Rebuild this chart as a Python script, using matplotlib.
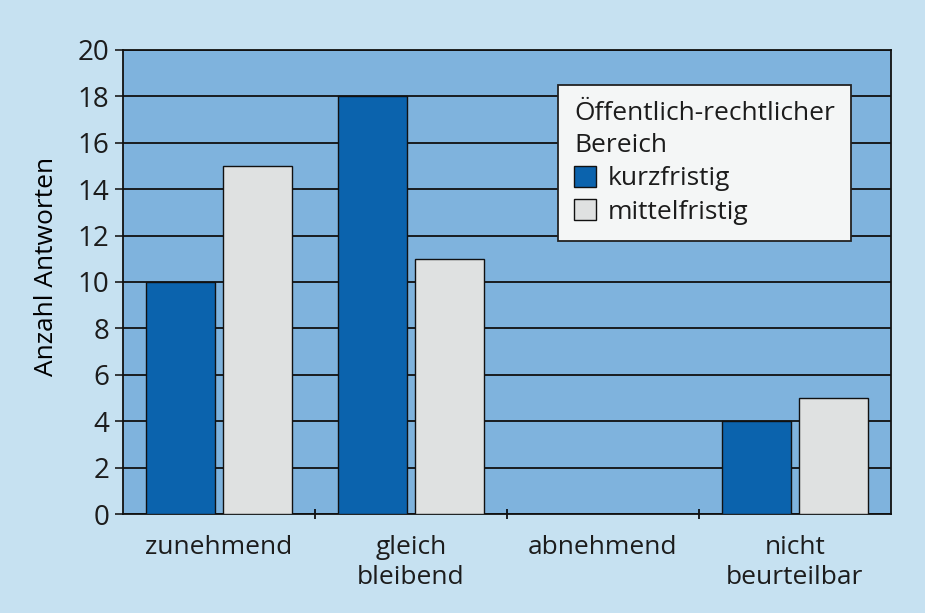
import matplotlib
matplotlib.use("Agg")
import matplotlib.pyplot as plt
import numpy as np

# data
categories = ["zunehmend", "gleich\nbleibend", "abnehmend", "nicht\nbeurteilbar"]
kurzfristig = [10, 18, 0, 4]
mittelfristig = [15, 11, 0, 5]
series_names = ["kurzfristig", "mittelfristig"]
legend_title = "Öffentlich-rechtlicher\nBereich"
y_ticks = list(range(0, 21, 2))

plt.rcParams["font.family"] = ["Open Sans", "DejaVu Sans"]
plt.rcParams["text.color"] = "#1c1c1c"
FS = 19

fig = plt.figure(figsize=(9.25, 6.13), dpi=100, facecolor="#c6e1f1")
ax = fig.add_axes([0.133, 0.1615, 0.830, 0.757])
ax.set_facecolor("#7fb3dd")
ax.set_axisbelow(True)

x = np.arange(len(categories))
w = 0.36
ax.bar(x - 0.2, kurzfristig, w, color="#0b63ad", edgecolor="#111", lw=1.0,
       label=series_names[0], zorder=3)
ax.bar(x + 0.2, mittelfristig, w, color="#dfe1e1", edgecolor="#111", lw=1.0,
       label=series_names[1], zorder=3)

ax.set_xlim(-0.5, len(categories) - 0.5)
ax.set_ylim(0, 20)
ax.set_yticks(y_ticks)
ax.yaxis.grid(True, color="#111", lw=1.3)

# labels at centres, tick marks at category boundaries
ax.set_xticks(x)
ax.set_xticklabels(categories, fontsize=FS, linespacing=1.25)
ax.tick_params(axis="x", which="major", length=0, pad=15)
ax.set_xticks(np.arange(0.5, len(categories) - 1, 1.0), minor=True)
ax.tick_params(axis="x", which="minor", length=7, width=1.2, direction="inout")
ax.tick_params(axis="y", labelsize=20, length=6, width=1.2, direction="out", pad=4,
               colors="#1c1c1c")
ax.tick_params(axis="x", colors="#1c1c1c")

for s in ax.spines.values():
    s.set_color("#111")
    s.set_linewidth(1.3)

ax.set_ylabel("Anzahl Antworten", fontsize=FS)
ax.yaxis.set_label_coords(-0.083, 0.534)

leg = ax.legend(title=legend_title, loc="upper left", bbox_to_anchor=(0.566, 0.925),
                fontsize=FS, title_fontsize=FS, frameon=True, fancybox=False,
                edgecolor="#222", facecolor="#f4f6f6", framealpha=1,
                handlelength=0.85, handleheight=0.85, handletextpad=0.45,
                borderpad=0.62, labelspacing=0.3, borderaxespad=0)
leg._legend_box.align = "left"
leg.get_title().set_linespacing(1.35)
leg.get_frame().set_linewidth(1.3)
leg.set_zorder(5)

fig.savefig("out.png", dpi=100, facecolor=fig.get_facecolor())
